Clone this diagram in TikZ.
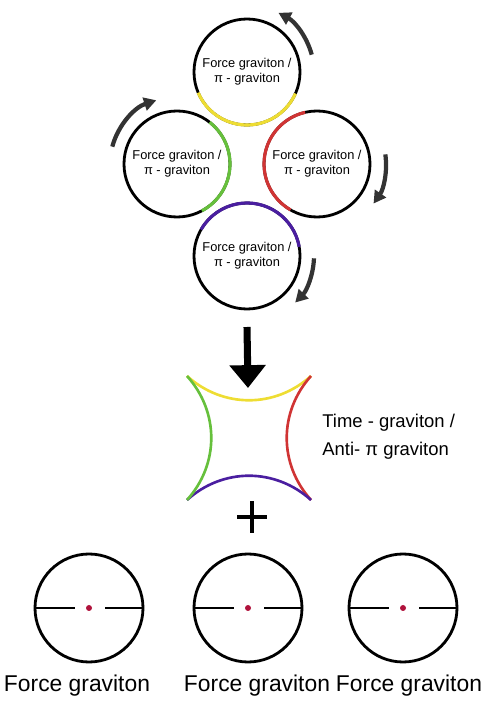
\documentclass[tikz,border=0pt]{standalone}
\usepackage{fontspec}
\setmainfont{Liberation Sans}
\usepackage{xcolor}
\usepackage{tikz}
\usetikzlibrary{arrows.meta, calc}

\definecolor{gyel}{HTML}{EEDD33}
\definecolor{ggrn}{HTML}{66C03C}
\definecolor{gred}{HTML}{D03434}
\definecolor{gpur}{HTML}{4A1EA0}
\definecolor{gdot}{HTML}{B0123C}

\begin{document}
\begin{tikzpicture}[>=latex, scale=1,
    fgrav/.style={circle, draw, line width=1.6pt, minimum size=2.12cm, inner sep=0pt, outer sep=0pt,
        align=center, font=\fontsize{7.3}{8.5}\selectfont},
    fcirc/.style={circle, draw, line width=1.6pt, minimum size=2.16cm, inner sep=0pt, outer sep=0pt},
    rotarr/.style={line width=2.4pt, black!80, -{Triangle[length=7pt, width=7.5pt]}},
    arcpart/.style={line width=1.8pt},
    edgepart/.style={line width=1.5pt}]
    \useasboundingbox (0,0) rectangle (9.9,14.08);

    % bon graviton quay
    \node[fgrav] (ftop) at (4.94,12.64) {Force graviton /\\π - graviton};
    \node[fgrav] (fleft) at (3.54,10.80) {Force graviton /\\π - graviton};
    \node[fgrav] (fright) at (6.34,10.80) {Force graviton /\\π - graviton};
    \node[fgrav] (fbot) at (4.94,8.96) {Force graviton /\\π - graviton};

    \draw[arcpart, gyel] ([shift={(203:1.06)}]ftop.center) arc[start angle=203, end angle=336, radius=1.06];
    \draw[arcpart, ggrn] ([shift={(-62:1.06)}]fleft.center) arc[start angle=-62, end angle=52, radius=1.06];
    \draw[arcpart, gred] ([shift={(103:1.06)}]fright.center) arc[start angle=103, end angle=240, radius=1.06];
    \draw[arcpart, gpur] ([shift={(10:1.06)}]fbot.center) arc[start angle=10, end angle=150, radius=1.06];

    \draw[rotarr] ([shift={(15:1.34)}]ftop.center) arc[start angle=15, end angle=62, radius=1.34];
    \draw[rotarr] ([shift={(165:1.34)}]fleft.center) arc[start angle=165, end angle=108, radius=1.34];
    \draw[rotarr] ([shift={(8:1.38)}]fright.center) arc[start angle=8, end angle=-35, radius=1.38];
    \draw[rotarr] ([shift={(-2:1.34)}]fbot.center) arc[start angle=-2, end angle=-44, radius=1.34];

    % mui ten xuong
    \coordinate (tip) at (4.96,6.32);
    \draw[line width=4pt, -{Triangle[length=13pt, width=20pt]}] ([yshift=-3.6mm]fbot.south) -- (tip);

    % hinh vuong lom
    \coordinate (tl) at (3.74,6.56);
    \coordinate (tr) at (6.22,6.56);
    \coordinate (bl) at (3.74,4.08);
    \coordinate (br) at (6.22,4.08);
    \draw[edgepart, gyel] (tl) to[bend right=42] (tr);
    \draw[edgepart, gred] (tr) to[bend right=42] (br);
    \draw[edgepart, gpur] (br) to[bend right=42] (bl);
    \draw[edgepart, ggrn] (bl) to[bend right=42] (tl);
    \node[anchor=west, align=left, inner sep=0pt, font=\fontsize{10.5}{16}\selectfont] (tgrav) at (6.44,5.34)
        {Time - graviton /\\Anti- π graviton};

    % dau cong
    \coordinate (plus) at (5.04,3.74);
    \draw[line width=2.8pt] ($(plus)+(-0.3,0)$) -- ($(plus)+(0.3,0)$);
    \draw[line width=2.8pt] ($(plus)+(0,-0.32)$) -- ($(plus)+(0,0.32)$);

    % ba force graviton
    \foreach \i/\x/\lx in {1/1.78/1.54, 2/4.96/5.14, 3/8.06/8.18} {
        \node[fcirc] (fc\i) at (\x,1.92) {};
        \draw[line width=1.1pt] (fc\i.west) -- ($(fc\i.center)+(-0.28,0)$);
        \draw[line width=1.1pt] ($(fc\i.center)+(0.32,0)$) -- (fc\i.east);
        \fill[gdot] (fc\i.center) circle (0.06);
        \node[font=\fontsize{13}{15}\selectfont, inner sep=0pt] (fl\i) at (\lx,0.37) {Force graviton};
    }
\end{tikzpicture}
\end{document}
